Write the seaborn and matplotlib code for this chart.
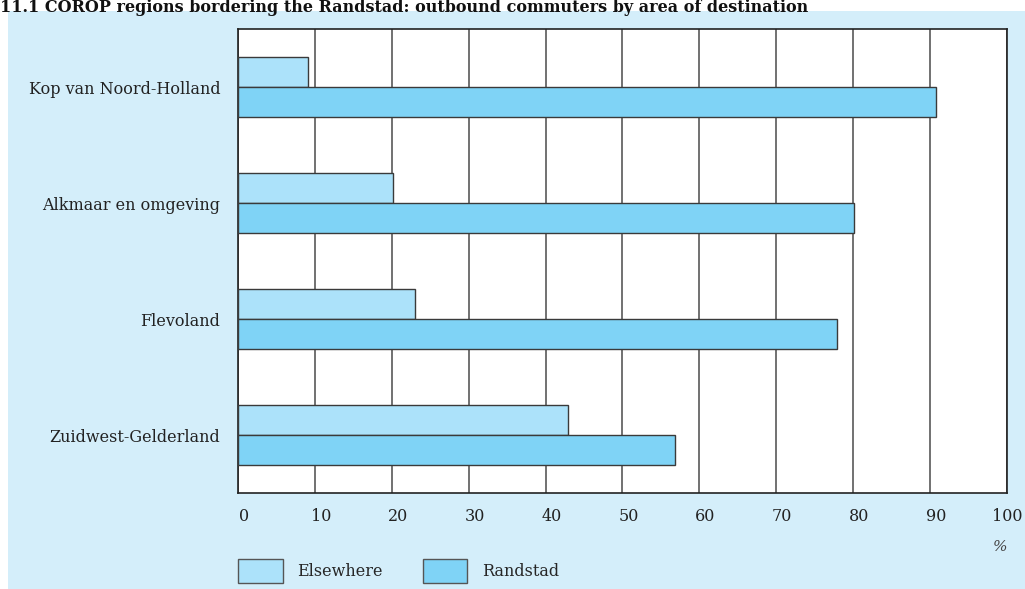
import numpy as np
import pandas as pd
import matplotlib
matplotlib.use("Agg")
import matplotlib.pyplot as plt
import matplotlib.transforms as mtransforms
from matplotlib.patches import Rectangle
import seaborn as sns

# Data (share of outbound commuters, %)
regions = ["Kop van Noord-Holland", "Alkmaar en omgeving", "Flevoland", "Zuidwest-Gelderland"]
elsewhere = [9.0, 20.1, 23.0, 42.9]
randstad = [90.8, 80.2, 77.9, 56.9]
series_names = ["Elsewhere", "Randstad"]
x_ticks = [0, 10, 20, 30, 40, 50, 60, 70, 80, 90, 100]

title = "11.1 COROP regions bordering the Randstad: outbound commuters by area of destination"

df = pd.DataFrame({
    "region": regions * 2,
    "series": [series_names[0]] * len(regions) + [series_names[1]] * len(regions),
    "value": elsewhere + randstad,
})

sns.set_theme(style="white")
plt.rcParams["font.family"] = ["DejaVu Serif", "Liberation Serif"]

W, H = 1025, 589
fig = plt.figure(figsize=(W / 100, H / 100), dpi=100, facecolor="white")

# light blue panel behind everything
fig.patches.append(Rectangle((8 / W, 0), 1 - 8 / W, 1 - 11 / H,
                             transform=fig.transFigure, facecolor="#d4eefa",
                             edgecolor="none", zorder=-5))

ax = fig.add_axes([238.4 / W, 1 - 493 / H, (1006.5 - 238.4) / W, (493 - 29) / H])
ax.set_zorder(2)
ax.set_facecolor("white")

palette = {"Elsewhere": "#ace2fa", "Randstad": "#7fd3f6"}
sns.barplot(data=df, x="value", y="region", hue="series", order=regions,
            hue_order=series_names, palette=palette, orient="h", width=0.51,
            edgecolor="#3a3a3a", linewidth=1.0, saturation=1, ax=ax, zorder=3)

fs = 11.5
ax.set_xlim(0, 100)
ax.set_ylim(3.5, -0.5)
ax.set_xticks(x_ticks)
ax.set_xticklabels([str(t) for t in x_ticks], fontsize=fs, color="#222222")
ax.tick_params(axis="x", length=0, pad=11)
ax.tick_params(axis="y", length=0, pad=13, labelsize=fs, labelcolor="#222222")
ax.set_xlabel("")
ax.set_ylabel("")
ax.grid(axis="x", color="#4a4a4a", linewidth=1.1)
ax.grid(axis="y", visible=False)
ax.set_axisbelow(True)
for sp in ax.spines.values():
    sp.set_visible(True)
    sp.set_color("#222222")
    sp.set_linewidth(1.2)

# tick numbers sit a bit to the right of their gridlines
labels_x = ax.get_xticklabels()
for i, lbl in enumerate(labels_x):
    dx = 6 if i < len(labels_x) - 1 else 1
    shift = mtransforms.ScaledTranslation(dx / 100, 0, fig.dpi_scale_trans)
    lbl.set_transform(lbl.get_transform() + shift)

fig.text(1000 / W, 1 - 547 / H, "%", fontsize=11, style="italic",
         color="#444444", ha="center", va="center")

handles, labels = ax.get_legend_handles_labels()
for h in handles:
    h.set_edgecolor("#555555")
ax.legend(handles, labels, loc="lower left", ncol=2, frameon=False,
          bbox_to_anchor=(238 / W, 6 / H), bbox_transform=fig.transFigure,
          borderaxespad=0, borderpad=0, fontsize=fs, handlelength=2.8,
          handleheight=1.9, handletextpad=0.9, columnspacing=2.5)

fig.text(0, 1 - 12 / H, title, fontsize=11.5, fontweight="bold", color="#111111",
         ha="left", va="baseline")

fig.savefig("out.png", dpi=100, facecolor="white")
